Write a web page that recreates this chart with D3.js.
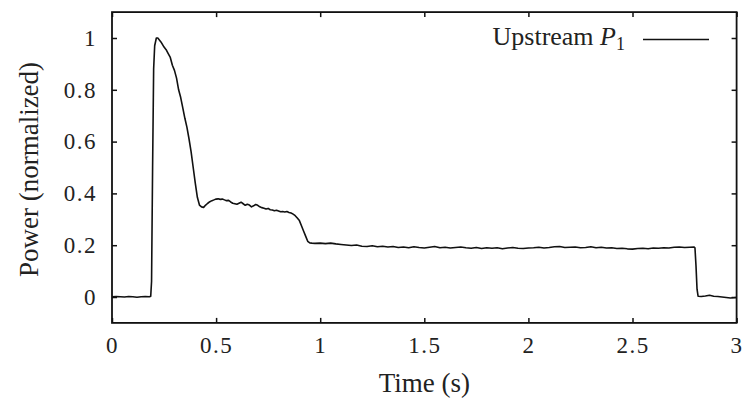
<!DOCTYPE html>
<html>
<head>
<meta charset="utf-8">
<script src="https://cdn.jsdelivr.net/npm/d3@7"></script>
<style>
  body { margin: 0; background: #fff; }
  svg { display: block; }
</style>
</head>
<body>
<div id="chart"></div>
<script>
// Data
const timeS = [
    0, 0.02, 0.04, 0.06, 0.08, 0.1, 0.12, 0.14, 0.16, 0.18, 0.186,
    0.19, 0.195, 0.2, 0.205, 0.213, 0.22, 0.235, 0.25, 0.26, 0.27, 0.28, 0.29,
    0.3, 0.31, 0.32, 0.33, 0.34, 0.35, 0.36, 0.37, 0.38, 0.39, 0.4, 0.41, 0.42,
    0.43, 0.44, 0.45, 0.46, 0.47, 0.48, 0.49, 0.5, 0.51, 0.52, 0.53, 0.54, 0.55,
    0.56, 0.57, 0.58, 0.59, 0.6, 0.61, 0.62, 0.63, 0.64, 0.65, 0.66, 0.67, 0.68,
    0.69, 0.7, 0.71, 0.72, 0.73, 0.74, 0.75, 0.76, 0.77, 0.78, 0.79, 0.8, 0.81,
    0.82, 0.83, 0.84, 0.85, 0.86, 0.87, 0.88, 0.89, 0.9, 0.91, 0.92, 0.93, 0.94,
    0.95, 0.96,
    0.975, 1.0, 1.025, 1.05, 1.075, 1.1, 1.125, 1.15, 1.175, 1.2, 1.225, 1.25,
    1.275, 1.3, 1.325, 1.35, 1.375, 1.4, 1.425, 1.45, 1.475, 1.5, 1.525, 1.55,
    1.575, 1.6, 1.625, 1.65, 1.675, 1.7, 1.725, 1.75, 1.775, 1.8, 1.825, 1.85,
    1.875, 1.9, 1.925, 1.95, 1.975, 2.0, 2.025, 2.05, 2.075, 2.1, 2.125, 2.15,
    2.175, 2.2, 2.225, 2.25, 2.275, 2.3, 2.325, 2.35, 2.375, 2.4, 2.425, 2.45,
    2.475, 2.5, 2.525, 2.55, 2.575, 2.6, 2.625, 2.65, 2.675, 2.7, 2.725, 2.75,
    2.775, 2.795,
    2.8, 2.805, 2.81, 2.815, 2.83, 2.85, 2.87, 2.89, 2.91, 2.93, 2.95, 2.97, 3.0
];

const powerNorm = [
    0.001, 0.002, 0.001, 0.0, 0.002, 0.001, -0.001, 0.001, 0.002, 0.001, 0.003,
    0.06, 0.5, 0.88, 0.97, 1.0, 1.0, 0.985, 0.965, 0.955, 0.94, 0.925, 0.895,
    0.875, 0.845, 0.8, 0.77, 0.73, 0.69, 0.655, 0.61, 0.56, 0.5, 0.44, 0.385, 0.355,
    0.348, 0.346, 0.355, 0.362, 0.368, 0.372, 0.375, 0.378, 0.379, 0.377, 0.378, 0.375, 0.372,
    0.373, 0.367, 0.362, 0.36, 0.358, 0.362, 0.366, 0.36, 0.354, 0.358, 0.355, 0.348, 0.352,
    0.357, 0.354, 0.348, 0.345, 0.343, 0.34, 0.342, 0.337, 0.336, 0.333, 0.335, 0.332, 0.329,
    0.33, 0.328, 0.33, 0.326, 0.324, 0.32, 0.314, 0.305, 0.295, 0.275, 0.255, 0.235, 0.215,
    0.209, 0.208,
    0.207, 0.208, 0.206, 0.208, 0.205, 0.203, 0.201, 0.199, 0.201, 0.196, 0.195, 0.198,
    0.194, 0.196, 0.193, 0.195, 0.191, 0.193, 0.19, 0.194, 0.191, 0.189, 0.192, 0.195,
    0.19, 0.192, 0.189, 0.191, 0.193, 0.19, 0.188, 0.191, 0.187, 0.19, 0.188, 0.19,
    0.186, 0.189, 0.191, 0.188, 0.187, 0.189, 0.19, 0.192, 0.189, 0.191, 0.194, 0.195,
    0.191, 0.192, 0.193, 0.19, 0.191, 0.194, 0.19, 0.192, 0.189, 0.19, 0.187, 0.188,
    0.186, 0.185, 0.187, 0.188, 0.186, 0.189, 0.188, 0.19, 0.189, 0.192, 0.193, 0.191,
    0.192, 0.193,
    0.19, 0.12, 0.03, 0.003, 0.002, 0.004, 0.007, 0.003, 0.002, 0.0, -0.002, -0.004, -0.002
];

const xTicks = [0, 0.5, 1, 1.5, 2, 2.5, 3];
const yTicks = [0, 0.2, 0.4, 0.6, 0.8, 1];
const seriesName = "Upstream ";

const width = 748, height = 399;
const frame = { left: 112, right: 736.6, top: 12.1, bottom: 322.9 };

const svg = d3.select("#chart")
    .append("svg")
    .attr("width", width)
    .attr("height", height);

const xScale = d3.scaleLinear().domain([0, 3]).range([frame.left, frame.right]);
const yScale = d3.scaleLinear().domain([-0.1, 1.1]).range([frame.bottom, frame.top]);

const serifFont = "'Liberation Serif', 'Times New Roman', serif";

// Axes: inward ticks, mirrored on all four sides
const xAxis = d3.axisBottom(xScale).tickValues(xTicks).tickSize(-5).tickPadding(14).tickFormat(d => String(d));
const xAxisTop = d3.axisTop(xScale).tickValues(xTicks).tickSize(-5).tickFormat("");
const yAxis = d3.axisLeft(yScale).tickValues(yTicks).tickSize(-5).tickPadding(15).tickFormat(d => String(d));
const yAxisRight = d3.axisRight(yScale).tickValues(yTicks).tickSize(-5).tickFormat("");

function styleAxis(g) {
    g.select(".domain").remove();
    g.selectAll(".tick line").attr("stroke", "#111").attr("stroke-width", 1.5);
    g.selectAll(".tick text")
        .attr("fill", "#222")
        .style("font-family", serifFont)
        .style("font-size", "23px")
        .style("letter-spacing", "1.5px");
}

svg.append("g")
    .attr("transform", `translate(0, ${frame.bottom})`)
    .call(xAxis)
    .call(styleAxis);

svg.append("g")
    .attr("transform", `translate(0, ${frame.top})`)
    .call(xAxisTop)
    .call(styleAxis);

svg.append("g")
    .attr("transform", `translate(${frame.left}, 0)`)
    .call(yAxis)
    .call(styleAxis);

svg.append("g")
    .attr("transform", `translate(${frame.right}, 0)`)
    .call(yAxisRight)
    .call(styleAxis);

// Frame
svg.append("rect")
    .attr("x", frame.left)
    .attr("y", frame.top)
    .attr("width", frame.right - frame.left)
    .attr("height", frame.bottom - frame.top)
    .attr("fill", "none")
    .attr("stroke", "#111")
    .attr("stroke-width", 1.8);

// The trace
const points = timeS.map((t, i) => ({ t: t, p: powerNorm[i] }));
const line = d3.line()
    .x(d => xScale(d.t))
    .y(d => yScale(d.p));

svg.append("path")
    .datum(points)
    .attr("d", line)
    .attr("fill", "none")
    .attr("stroke", "#111")
    .attr("stroke-width", 1.6)
    .attr("stroke-linejoin", "round");

// Axis labels
svg.append("text")
    .attr("x", (frame.left + frame.right) / 2)
    .attr("y", 392)
    .attr("text-anchor", "middle")
    .attr("fill", "#222")
    .style("font-family", serifFont)
    .style("font-size", "27px")
    .text("Time (s)");

svg.append("text")
    .attr("transform", `translate(38, ${(frame.top + frame.bottom) / 2 + 2}) rotate(-90)`)
    .attr("text-anchor", "middle")
    .attr("fill", "#222")
    .style("font-family", serifFont)
    .style("font-size", "27px")
    .text("Power (normalized)");

// Legend
const legendText = svg.append("text")
    .attr("x", 625)
    .attr("y", 45)
    .attr("text-anchor", "end")
    .attr("fill", "#222")
    .style("font-family", serifFont)
    .style("font-size", "26px");
legendText.append("tspan").text(seriesName);
legendText.append("tspan").style("font-style", "italic").text("P");
legendText.append("tspan").attr("dy", 5).style("font-size", "18px").text("1");

svg.append("line")
    .attr("x1", 643)
    .attr("x2", 709)
    .attr("y1", 39.5)
    .attr("y2", 39.5)
    .attr("stroke", "#111")
    .attr("stroke-width", 1.6);
</script>
</body>
</html>
